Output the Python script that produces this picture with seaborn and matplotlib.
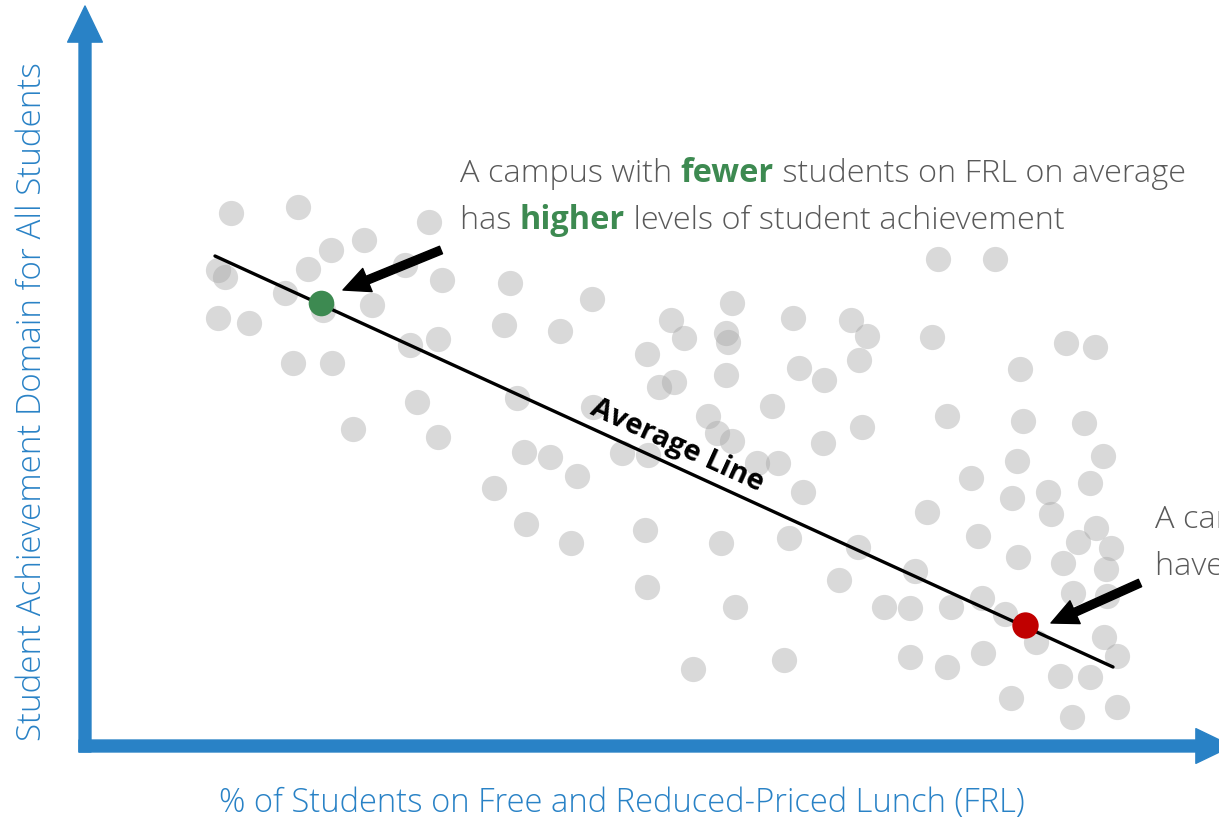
import matplotlib

matplotlib.use("Agg")
import matplotlib.pyplot as plt
import matplotlib.transforms as mtransforms
import pandas as pd
import seaborn as sns

# Campus data (no ticks in the original, units are arbitrary)
frl_pct = [
    14.6, 21.3, 34.4, 27.9, 24.6, 32.0, 22.3, 13.3, 14.0, 20.0, 35.7, 28.7,
    23.8, 13.3, 16.4, 32.5, 35.3, 20.8, 24.7, 33.2, 26.8, 35.3, 42.5, 50.7,
    64.7, 41.9, 47.5, 58.6, 59.9, 64.1, 64.3, 56.2, 57.4, 58.9, 64.1, 43.2,
    50.8, 62.3, 63.2, 64.7, 43.9, 46.5, 53.7, 56.3, 49.2, 40.9, 44.1, 48.6,
    56.0, 63.6, 56.2, 65.0, 60.8, 68.7, 67.2, 69.3, 85.3, 91.0, 70.8, 76.6,
    78.2, 84.7, 71.4, 73.9, 77.4, 86.2, 77.7, 73.8, 71.8, 88.6, 84.2, 89.3,
    70.4, 77.3, 83.0, 75.4, 79.9, 82.5, 86.6, 89.7, 69.9, 82.5, 86.2, 89.8,
    98.1, 101.0, 93.5, 93.8, 99.9, 101.8, 93.2, 92.7, 96.3, 100.5, 96.6,
    101.1, 99.3, 102.6, 93.3, 97.8, 102.1, 98.8, 102.2, 92.0, 95.1, 101.9,
    103.2, 97.5, 100.5, 92.6, 98.7, 103.2,
]
achievement = [
    53.3, 53.9, 52.4, 50.6, 49.6, 48.1, 47.7, 47.6, 46.9, 45.3, 46.6, 44.1,
    43.6, 42.8, 42.3, 40.1, 40.7, 38.3, 38.3, 34.4, 31.7, 30.9, 46.3, 44.7,
    44.3, 42.1, 41.5, 42.6, 40.8, 41.3, 40.4, 39.2, 35.9, 36.4, 37.1, 34.8,
    33.9, 33.0, 31.3, 30.5, 29.4, 28.9, 29.3, 29.1, 27.0, 25.8, 22.2, 20.3,
    21.6, 20.3, 15.9, 13.9, 7.7, 34.0, 28.3, 28.3, 48.7, 48.7, 42.8, 42.6,
    41.0, 40.9, 37.8, 36.6, 38.6, 33.0, 31.9, 30.3, 25.4, 26.8, 23.4, 21.0,
    20.8, 19.9, 17.5, 16.6, 13.9, 13.8, 13.9, 14.8, 8.6, 8.9, 7.9, 9.3,
    40.3, 39.9, 37.7, 32.5, 32.3, 29.0, 28.5, 24.8, 25.4, 26.3, 23.2,
    21.8, 20.4, 19.8, 18.9, 18.3, 17.7, 15.3, 15.0, 13.2, 10.4, 10.9,
    9.0, 7.0, 6.9, 4.8, 2.9, 3.9,
]

# Highlighted campuses
low_frl_campus = [23.6, 44.3]
high_frl_campus = [94.0, 12.1]

# Average line end points
avg_line_x = [13.0, 102.8]
avg_line_y = [49.0, 7.9]

BLUE = "#2982C6"
GREEN = "#3D8A51"
RED = "#C00000"
GREY_TEXT = "#595959"


def write_segments(ax, x, y, segments, size):
    """
    Write a line of mixed-style text, segment after segment, on one baseline
    """
    renderer = ax.figure.canvas.get_renderer()
    x_disp, y_disp = ax.transData.transform((x, y))
    for text, color, weight in segments:
        t = ax.text(
            x_disp,
            y_disp,
            text,
            transform=mtransforms.IdentityTransform(),
            color=color,
            fontweight=weight,
            fontsize=size,
            ha="left",
            va="baseline",
        )
        x_disp = t.get_window_extent(renderer).x1


def block_arrow(ax, tail, tip, color, tail_w, head_w, head_l, z=5):
    ax.annotate(
        "",
        xy=tip,
        xytext=tail,
        arrowprops=dict(
            arrowstyle=(
                f"simple,head_width={head_w},head_length={head_l},"
                f"tail_width={tail_w}"
            ),
            color=color,
            shrinkA=0,
            shrinkB=0,
            mutation_scale=10,
        ),
        annotation_clip=False,
        zorder=z,
    )


sns.set_theme(style="white")
plt.rcParams["font.family"] = ["Open Sans", "DejaVu Sans"]

fig = plt.figure(figsize=(12.19, 8.22), dpi=100)
ax = fig.add_axes([0, 0, 1, 1])
ax.set_xlim(-8.5, 113.4)
ax.set_ylim(-7.6, 74.6)
ax.axis("off")

data = pd.DataFrame({"FRL": frl_pct, "Achievement": achievement})
sns.scatterplot(
    data=data,
    x="FRL",
    y="Achievement",
    s=330,
    color="#A5A5A5",
    alpha=0.42,
    linewidth=0,
    ax=ax,
    zorder=2,
)

sns.lineplot(
    x=avg_line_x, y=avg_line_y, color="black", linewidth=2.4, ax=ax, zorder=3
)

ax.scatter(*low_frl_campus, s=340, color=GREEN, linewidth=0, zorder=4)
ax.scatter(*high_frl_campus, s=360, color=RED, linewidth=0, zorder=4)

# Pointer arrows
block_arrow(ax, (35.6, 49.6), (25.8, 45.6), "black", 0.58, 1.8, 1.9)
block_arrow(ax, (105.5, 16.3), (96.6, 12.3), "black", 0.58, 1.8, 1.9)

# Blue axis arrows
block_arrow(ax, (0, -0.6), (0, 74.0), BLUE, 0.86, 2.5, 2.6, z=1)
block_arrow(ax, (-0.6, 0), (114.7, 0), BLUE, 0.86, 2.5, 2.6, z=1)

ax.text(
    59.2,
    30.0,
    "Average Line",
    rotation=-24.6,
    rotation_mode="anchor",
    ha="center",
    va="center",
    fontsize=21,
    fontweight="bold",
    color="black",
    zorder=6,
)

write_segments(
    ax,
    37.5,
    56.4,
    [
        ("A campus with ", GREY_TEXT, "light"),
        ("fewer", GREEN, "bold"),
        (" students on FRL on average", GREY_TEXT, "light"),
    ],
    23.4,
)
write_segments(
    ax,
    37.5,
    51.7,
    [
        ("has ", GREY_TEXT, "light"),
        ("higher", GREEN, "bold"),
        (" levels of student achievement", GREY_TEXT, "light"),
    ],
    23.4,
)
write_segments(
    ax,
    107.0,
    21.8,
    [
        ("A campus with ", GREY_TEXT, "light"),
        ("more", RED, "bold"),
        (" students on FRL tends to", GREY_TEXT, "light"),
    ],
    23.4,
)
write_segments(
    ax,
    107.0,
    17.1,
    [
        ("have ", GREY_TEXT, "light"),
        ("lower", RED, "bold"),
        (" levels of student achievement", GREY_TEXT, "light"),
    ],
    23.4,
)

ax.text(
    -5.3,
    34.4,
    "Student Achievement Domain for All Students",
    rotation=90,
    ha="center",
    va="center",
    fontsize=23.9,
    fontweight="light",
    color=BLUE,
)
ax.text(
    53.7,
    -5.7,
    "% of Students on Free and Reduced-Priced Lunch (FRL)",
    ha="center",
    va="center",
    fontsize=23.6,
    fontweight="light",
    color=BLUE,
)

fig.savefig("out.png", dpi=100)
